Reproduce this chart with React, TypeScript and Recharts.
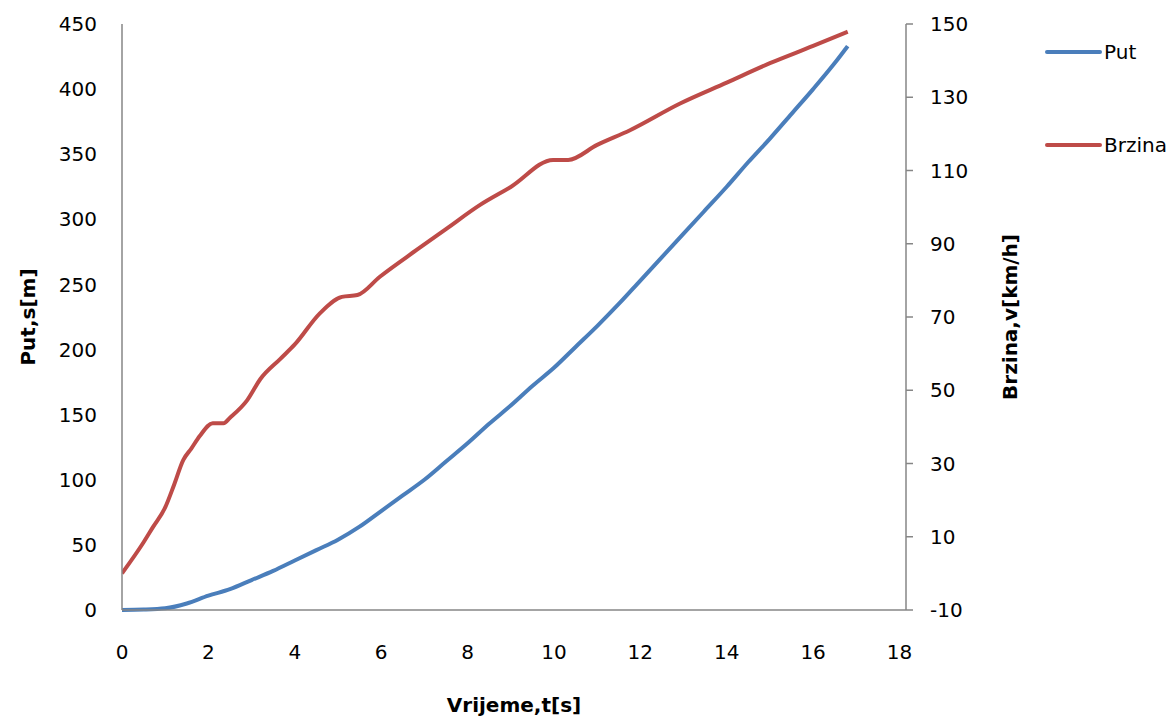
import React from 'react';
import { LineChart, Line, XAxis, YAxis, Legend, Label } from 'recharts';

const putTime = [0, 0.5, 1, 1.5, 2, 2.5, 3, 3.5, 4, 4.5, 5, 5.5, 6, 6.5, 7, 7.5, 8, 8.5, 9, 9.5, 10, 10.5, 11, 11.5, 12, 12.5, 13, 13.5, 14, 14.5, 15, 15.5, 16, 16.5, 16.8];
const putValues = [0, 0.3, 1.3, 5, 11, 16, 23, 30, 38, 46, 54, 64, 76, 88, 100, 114, 128, 143, 157, 172, 186, 202, 218, 235, 253, 271, 289, 307, 325, 344, 362, 381, 400, 420, 433];

const brzinaTime = [0, 0.5, 0.72, 1, 1.2, 1.42, 1.6, 1.8, 2.1, 2.35, 2.5, 2.9, 3.2, 3.66, 4, 4.58, 5.09, 5.45, 5.97, 6.82, 7.5, 8.29, 9, 9.98, 10.33, 11, 11.76, 12.92, 14, 15, 16, 16.8];
const brzinaValues = [0, 8.5, 12.7, 18, 24, 31, 34, 37.5, 41, 41, 42.5, 47.3, 53, 58.5, 62.5, 71, 75.5, 76, 81, 88.3, 94, 100.6, 105.5, 112.9, 112.9, 117, 121, 128.3, 134, 139.3, 144, 147.9];

const seriesNames = ['Put', 'Brzina'];

const xTicks = [0, 2, 4, 6, 8, 10, 12, 14, 16, 18];
const putTicks = [0, 50, 100, 150, 200, 250, 300, 350, 400, 450];
const brzinaTicks = [-10, 10, 30, 50, 70, 90, 110, 130, 150];

const putData = putTime.map((t, i) => ({ t, put: putValues[i] }));
const brzinaData = brzinaTime.map((t, i) => ({ t, brzina: brzinaValues[i] }));

const FONT = '"DejaVu Sans", sans-serif';
const AXIS = '#868686';
const BLUE = '#4A7EBB';
const RED = '#BE4B48';

const tickStyle = { fontSize: 20, fill: '#000', fontFamily: FONT };

const LegendContent = (props: any) => {
  const payload = [...(props.payload || [])].sort(
    (a: any, b: any) => seriesNames.indexOf(a.value) - seriesNames.indexOf(b.value)
  );
  return (
    <div style={{ fontFamily: FONT, fontSize: 20, color: '#000', width: 132, whiteSpace: 'nowrap' }}>
      {payload.map((p: any, i: number) => (
        <div key={i} style={{ display: 'flex', alignItems: 'center', height: 24, marginBottom: i === 0 ? 69 : 0 }}>
          <svg width={62} height={10} style={{ display: 'block', flex: '0 0 auto' }}>
            <line x1={5} y1={5} x2={58} y2={5} stroke={p.color} strokeWidth={4} strokeLinecap="round" />
          </svg>
          <span style={{ lineHeight: '24px' }}>{p.value}</span>
        </div>
      ))}
    </div>
  );
};

export default function App() {
  return (
    <div style={{ position: 'absolute', left: 0, top: 0, width: 1174, height: 718, background: '#fff' }}>
      <LineChart width={1174} height={718} margin={{ top: 24, right: 0, bottom: 0, left: 0 }}>
        <XAxis
          dataKey="t"
          type="number"
          domain={[0, 18.15]}
          ticks={xTicks}
          allowDataOverflow
          height={108}
          tickSize={0}
          tickLine={false}
          tickMargin={35}
          axisLine={{ stroke: AXIS, strokeWidth: 1.5 }}
          tick={tickStyle}
        >
          <Label
            content={(p: any) => {
              const vb = p.viewBox;
              return (
                <text x={vb.x + vb.width / 2} y={vb.y + 102} textAnchor="middle" fontFamily={FONT} fontSize={20} fontWeight="bold" fill="#000">
                  Vrijeme,t[s]
                </text>
              );
            }}
          />
        </XAxis>
        <YAxis
          yAxisId="put"
          orientation="left"
          width={122}
          domain={[0, 450]}
          ticks={putTicks}
          tickSize={0}
          tickLine={false}
          tickMargin={25}
          axisLine={{ stroke: AXIS, strokeWidth: 1.5 }}
          tick={tickStyle}
        >
          <Label
            content={(p: any) => {
              const vb = p.viewBox;
              const cx = vb.x + 28;
              const cy = vb.y + vb.height / 2;
              return (
                <text x={cx} y={cy} transform={`rotate(-90 ${cx} ${cy})`} textAnchor="middle" dominantBaseline="central" fontFamily={FONT} fontSize={20} fontWeight="bold" fill="#000">
                  Put,s[m]
                </text>
              );
            }}
          />
        </YAxis>
        <YAxis
          yAxisId="brzina"
          orientation="right"
          width={268}
          domain={[-10, 150]}
          ticks={brzinaTicks}
          tickSize={7}
          tickLine={{ stroke: AXIS, strokeWidth: 1.5 }}
          tickMargin={17}
          axisLine={{ stroke: AXIS, strokeWidth: 1.5 }}
          tick={tickStyle}
        >
          <Label
            content={(p: any) => {
              const vb = p.viewBox;
              const cx = vb.x + 104;
              const cy = vb.y + vb.height / 2;
              return (
                <text x={cx} y={cy} transform={`rotate(-90 ${cx} ${cy})`} textAnchor="middle" dominantBaseline="central" fontFamily={FONT} fontSize={20} fontWeight="bold" fill="#000">
                  Brzina,v[km/h]
                </text>
              );
            }}
          />
        </YAxis>
        <Legend
          layout="horizontal"
          verticalAlign="middle"
          align="right"
          wrapperStyle={{ position: 'absolute', left: 1042, top: 40, width: 0, height: 0, overflow: 'visible' }}
          content={LegendContent}
        />
        <Line
          data={putData}
          yAxisId="put"
          dataKey="put"
          name="Put"
          type="monotone"
          stroke={BLUE}
          strokeWidth={4}
          dot={false}
          activeDot={false}
          isAnimationActive={false}
        />
        <Line
          data={brzinaData}
          yAxisId="brzina"
          dataKey="brzina"
          name="Brzina"
          type="monotone"
          stroke={RED}
          strokeWidth={4}
          dot={false}
          activeDot={false}
          isAnimationActive={false}
        />
      </LineChart>
    </div>
  );
}
